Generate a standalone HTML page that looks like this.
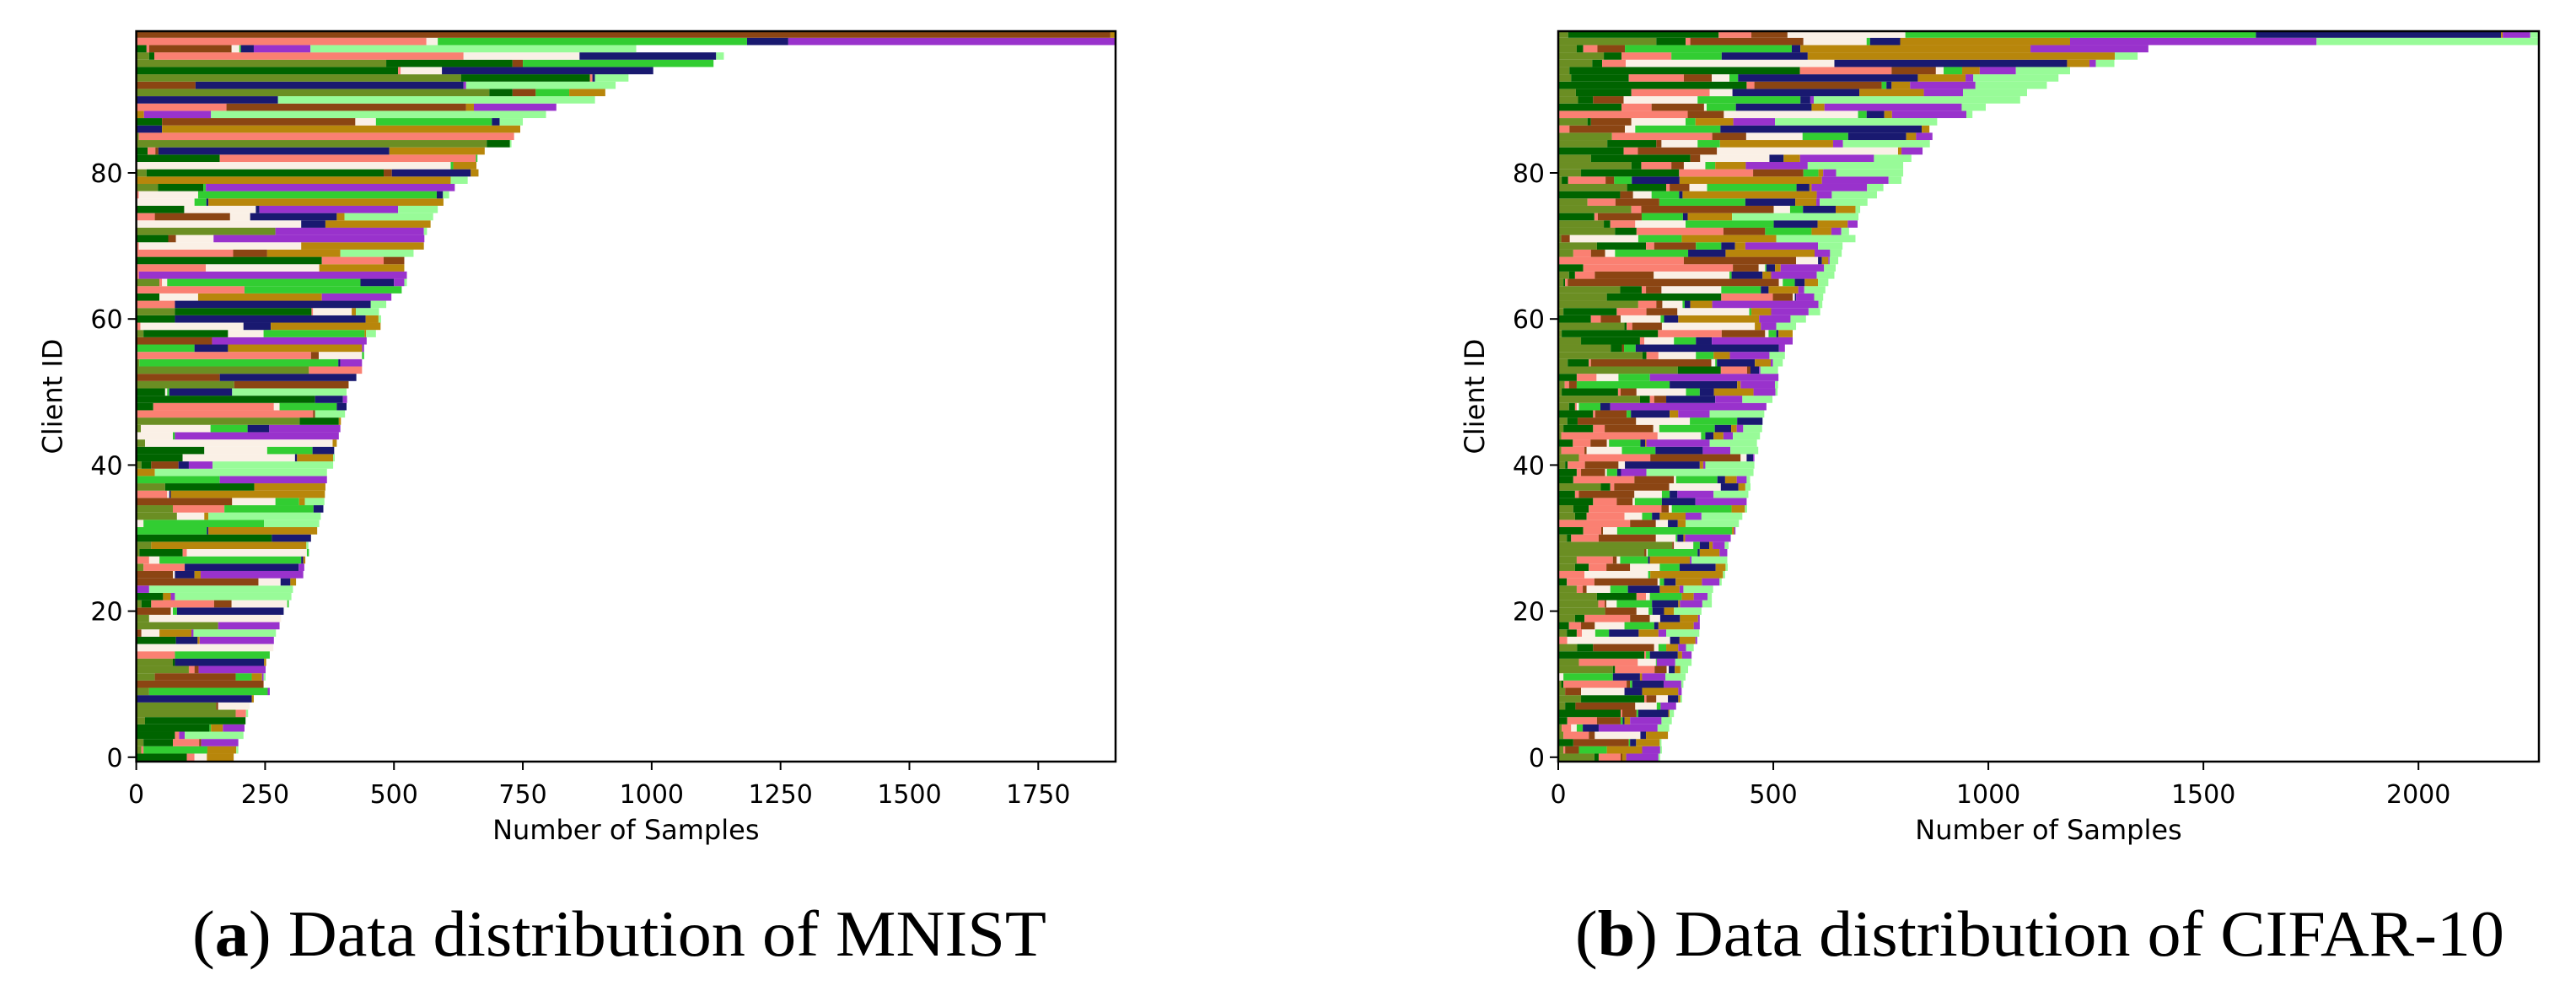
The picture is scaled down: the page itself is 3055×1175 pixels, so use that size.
<!DOCTYPE html>
<html>
<head>
<meta charset="utf-8">
<style>
  html,body{margin:0;padding:0;background:#fff;}
  svg{display:block;}
</style>
</head>
<body>
<svg id="fig" xmlns="http://www.w3.org/2000/svg" width="3055" height="1175" viewBox="0 0 3055 1175">
  <rect x="0" y="0" width="3055" height="1175" fill="#fff"/>
  <g id="panelA"></g>
  <g id="panelB"></g>
  <text x="228" y="1133" font-family="Liberation Serif, serif" font-size="77" textLength="1013" lengthAdjust="spacingAndGlyphs" fill="#000">(<tspan font-weight="bold">a</tspan>) Data distribution of MNIST</text>
  <text x="1868" y="1133" font-family="Liberation Serif, serif" font-size="77" textLength="1102" lengthAdjust="spacingAndGlyphs" fill="#000">(<tspan font-weight="bold">b</tspan>) Data distribution of CIFAR-10</text>
</svg>
<script>
// class order: olivedrab, darkgreen, salmon, saddlebrown, linen, limegreen, midnightblue, darkgoldenrod, darkorchid, palegreen
const classColors = ["#6b8e23","#006400","#fa8072","#8b4513","#faf0e6","#32cd32","#191970","#b8860b","#9932cc","#98fb98"];
const mnistXTicks = [0,250,500,750,1000,1250,1500,1750];
const cifarXTicks = [0,500,1000,1500,2000];
const yTicks = [0,20,40,60,80];
const mnistXMax = 1900;
const cifarXMax = 2280;
const mnistCounts = [
[0,98,15,0,24,0,0,52,0,0],[10,0,4,0,0,124,0,56,0,4],[14,57,51,4,0,0,0,0,72,0],[0,75,8,0,0,0,0,0,11,114],[0,142,0,0,0,3,0,23,42,0],
[17,195,0,0,0,0,0,0,0,0],[193,0,20,0,0,0,0,0,0,4],[155,0,0,4,61,0,0,0,0,0],[0,0,0,0,0,0,224,4,0,0],[25,0,0,0,0,230,0,0,4,0],
[0,0,0,247,0,0,0,0,0,0],[36,0,0,157,0,31,0,20,3,4],[102,0,11,8,0,0,0,0,130,0],[71,4,0,0,0,0,173,4,0,0],[0,0,75,0,0,184,0,0,0,0],
[0,0,0,0,266,0,0,0,0,0],[0,77,0,0,0,0,42,4,144,0],[0,0,0,10,35,0,0,62,4,160],[159,0,0,0,0,0,0,0,119,0],[25,0,0,0,256,0,0,0,0,0],
[0,0,0,67,4,8,207,0,0,0],[10,19,122,34,108,3,0,0,0,0],[0,52,0,0,0,0,0,15,8,226],[0,0,0,0,0,0,0,0,25,279],[0,0,0,237,43,0,19,11,0,0],
[0,0,0,71,4,0,38,12,199,0],[14,0,80,0,0,0,221,0,11,0],[0,0,25,0,20,275,4,4,0,0],[6,84,8,0,233,4,0,0,0,0],[29,0,0,0,0,0,0,301,0,4],
[0,263,0,0,0,0,76,0,0,0],[0,0,0,0,0,137,3,211,0,0],[0,0,0,0,14,234,0,0,0,107],[79,0,0,0,53,0,0,8,0,218],[71,0,100,0,0,173,19,0,0,0],
[0,0,0,186,84,46,0,11,0,38],[0,0,60,0,4,0,3,299,0,0],[56,173,0,0,0,0,0,138,0,0],[0,0,0,0,0,162,0,0,208,0],[0,0,0,0,0,0,0,36,0,334],
[10,19,0,53,0,0,20,0,46,234],[0,90,0,0,218,0,4,70,0,3],[0,132,0,0,122,88,42,0,0,0],[17,0,0,0,364,0,0,8,0,0],[0,0,0,0,71,4,0,0,318,0],
[9,0,0,0,135,72,42,0,138,0],[317,76,0,0,0,0,0,4,0,0],[0,0,343,4,0,0,0,0,0,58],[0,33,234,0,11,111,19,0,0,0],[0,347,0,0,0,0,54,0,8,0],
[0,56,0,0,4,4,122,0,0,222],[190,0,0,222,0,0,0,0,0,0],[0,0,0,162,0,0,265,0,0,0],[335,0,103,0,0,0,0,0,0,0],[6,0,0,0,0,386,4,0,42,0],
[0,0,339,15,84,4,0,0,0,0],[0,0,0,0,0,113,65,260,4,0],[0,0,0,147,0,0,0,0,300,0],[14,164,0,0,69,196,0,3,0,19],[0,0,8,0,200,0,53,213,0,0],
[0,75,0,0,0,0,370,25,0,5],[75,265,3,0,75,0,0,8,0,45],[0,0,75,0,0,0,380,0,0,30],[0,45,0,0,75,0,0,240,135,0],[0,0,210,0,0,305,0,0,0,0],
[45,0,5,0,10,375,65,0,20,5],[0,0,5,0,0,0,0,0,520,0],[0,0,135,0,220,0,0,165,0,0],[0,360,120,40,0,0,0,0,0,0],[0,0,188,66,0,0,0,142,0,142],
[0,0,5,0,315,0,0,238,0,0],[0,62,0,15,73,0,0,0,409,0],[270,0,0,0,0,0,0,0,288,6],[0,0,0,0,320,0,47,204,0,0],[0,0,36,146,39,0,168,15,0,172],
[0,93,0,0,139,0,7,0,269,77],[0,0,0,0,113,23,4,456,0,0],[0,0,5,0,115,463,12,0,0,12],[42,88,0,0,0,5,0,0,483,0],[0,0,0,0,0,0,0,610,0,33],
[20,460,0,16,0,0,153,15,0,0],[0,0,0,0,610,5,0,45,0,0],[0,162,497,0,0,3,0,0,0,0],[0,22,15,6,0,0,448,185,0,0],[680,45,0,0,0,0,0,0,0,3],
[5,0,728,0,0,0,0,0,0,0],[0,0,0,0,0,0,50,695,0,0],[0,50,0,375,40,225,15,0,0,45],[0,0,0,0,0,0,0,15,130,650],[0,0,175,465,0,0,0,15,160,0],
[0,0,0,0,0,0,275,0,0,615],[685,45,0,45,0,65,0,70,0,0],[0,0,0,115,0,0,520,0,5,290],[630,250,5,0,0,0,5,0,0,65],[0,508,5,0,80,0,410,0,0,0],
[485,245,0,20,0,370,0,0,0,0],[25,10,600,0,225,0,265,0,0,15],[0,20,5,160,15,3,25,0,110,632],[0,0,563,0,22,600,80,0,635,0],[0,0,0,0,0,0,0,0,0,0]
];
mnistCounts[99] = [0,0,0,1890,0,0,0,10,0,0];
const cifarCounts = [
[84,10,51,4,0,0,0,9,75,4],[12,0,4,32,0,65,0,82,42,4],[0,35,0,129,0,3,14,55,0,4],[12,0,59,14,106,0,13,51,0,0],[8,0,22,0,13,14,37,0,137,27],
[0,21,69,55,0,5,4,13,73,24],[0,145,4,33,0,4,70,3,0,10],[16,24,0,139,50,9,0,0,36,0],[53,147,5,23,27,0,24,5,0,4],[16,0,0,37,101,0,41,84,8,0],
[7,5,147,8,0,5,73,0,41,5],[0,0,0,0,12,115,63,5,54,47],[127,5,92,28,5,0,14,13,0,18],[48,0,137,0,42,2,0,0,43,38],[0,200,4,0,0,9,65,10,22,0],
[44,37,0,142,10,18,0,28,18,18],[0,0,21,0,239,0,22,37,4,0],[20,23,12,0,31,32,69,46,18,77],[0,25,28,32,69,69,10,82,14,0],[39,22,106,46,24,0,46,42,4,0],
[109,0,0,73,28,9,27,23,0,64],[93,0,15,4,24,82,61,4,52,22],[90,92,22,0,9,74,0,28,32,10],[43,0,14,9,55,41,74,46,9,69],[0,20,64,147,5,10,27,61,41,5],
[0,0,61,0,148,5,0,169,0,5],[39,32,41,55,69,46,84,23,0,5],[43,0,84,9,8,65,4,93,4,83],[200,0,0,5,3,116,5,46,18,0],[265,0,0,4,45,15,22,8,28,9],
[20,10,64,133,46,4,14,4,106,0],[0,58,42,4,33,267,0,5,3,0],[0,0,167,60,28,0,23,18,0,124],[39,27,88,0,41,23,18,60,37,95],[35,36,169,17,7,139,0,31,0,5],
[0,81,55,37,5,63,78,0,119,0],[0,39,9,129,64,18,18,0,84,81],[99,22,9,128,120,0,41,16,0,12],[0,35,142,92,5,96,18,27,23,8],[0,43,10,56,4,24,9,0,59,249],
[16,6,40,78,15,0,174,8,5,114],[48,0,166,210,14,0,15,0,3,0],[7,0,54,5,82,78,110,0,64,65],[0,34,41,38,5,73,11,3,147,110],[7,0,224,0,101,10,19,23,22,63],
[12,69,27,113,14,129,38,13,15,44],[21,24,0,136,125,110,59,0,0,0],[0,81,5,73,0,10,90,20,73,127],[25,14,4,0,5,50,23,0,363,0],[190,23,10,28,0,0,114,0,63,70],
[8,131,6,37,115,32,33,92,51,5],[15,0,10,18,0,216,157,8,80,7],[0,43,46,0,51,73,0,0,299,0],[278,100,61,8,0,0,20,0,3,41],[22,49,5,280,9,4,88,37,5,23],
[196,9,28,0,87,41,0,38,92,36],[122,26,0,5,0,27,333,0,14,0],[53,137,10,0,69,51,37,0,188,0],[8,224,148,101,8,18,5,33,0,0],[154,5,13,69,216,0,0,14,36,46],
[0,76,23,46,93,8,33,188,73,36],[12,124,69,72,167,5,0,46,87,27],[186,0,42,14,47,5,13,51,247,9],[113,266,120,46,5,0,3,0,42,21],[144,50,10,36,139,92,18,69,14,49],
[12,4,6,491,9,28,23,31,0,24],[25,14,46,137,176,5,72,20,106,41],[0,58,348,60,15,3,20,13,101,27],[0,0,292,261,51,0,9,15,3,20],[35,0,41,33,23,170,87,207,36,27],
[90,114,19,97,0,59,32,24,169,57],[7,0,0,20,159,101,0,220,0,184],[132,50,202,97,0,108,0,46,23,18],[106,15,58,0,117,205,102,70,23,0],[0,84,8,102,0,96,11,103,0,294],
[170,0,23,308,38,30,76,46,0,11],[68,0,65,102,0,200,116,49,8,111],[0,144,0,30,43,64,8,312,35,105],[160,91,8,46,41,208,30,5,129,38],[8,15,87,20,0,41,111,331,155,30],
[53,228,172,117,0,35,0,11,30,156],[170,23,70,29,50,23,0,71,144,222],[76,231,0,23,161,0,33,38,172,87],[0,152,33,184,421,0,0,8,49,0],[114,114,0,12,84,52,0,263,23,202],
[125,0,233,79,131,106,135,23,38,0],[0,0,26,129,24,198,468,18,0,0],[68,8,0,94,126,23,0,88,97,377],[0,0,301,84,312,20,41,18,173,14],[0,147,70,122,6,68,176,30,319,56],
[46,35,0,71,172,239,23,0,8,480],[41,129,182,0,53,0,295,150,91,149],[0,438,18,296,0,11,12,43,152,166],[30,134,128,65,41,20,418,111,18,198],[26,536,213,103,18,43,0,41,84,126],
[79,23,55,0,485,0,541,52,15,43],[106,41,116,0,0,117,200,714,0,53],[43,15,33,64,0,388,20,535,274,0],[228,68,11,263,147,8,70,395,573,517],[23,350,76,84,274,815,570,4,64,20]
];

const NS = "http://www.w3.org/2000/svg";
const PLOT_TOP = 37, PLOT_BOTTOM = 903, Y_MIN = -0.6, Y_MAX = 99.4;
const FONT = "DejaVu Sans, Liberation Sans, sans-serif";

function mk(tag, attrs) {
  const e = document.createElementNS(NS, tag);
  for (const k in attrs) e.setAttribute(k, attrs[k]);
  return e;
}

function drawPanel(g, counts, xMax, xTicks, left, right, prefix) {
  const xScale = v => left + (v / xMax) * (right - left);
  const yScale = v => PLOT_BOTTOM - (v - Y_MIN) / (Y_MAX - Y_MIN) * (PLOT_BOTTOM - PLOT_TOP);
  const clipId = prefix + "-clip";
  const defs = mk("defs", {});
  const cp = mk("clipPath", {id: clipId});
  cp.appendChild(mk("rect", {x: left, y: PLOT_TOP, width: right - left, height: PLOT_BOTTOM - PLOT_TOP}));
  defs.appendChild(cp);
  g.appendChild(defs);
  const bars = mk("g", {"clip-path": "url(#" + clipId + ")"});
  
  
  g.appendChild(bars);
  counts.forEach((row, i) => {
    let acc = 0;
    const yTop = yScale(i + 0.5), yBot = yScale(i - 0.5);
    row.forEach((v, c) => {
      if (v <= 0) return;
      const x0 = xScale(acc), x1 = xScale(acc + v);
      acc += v;
      const r = mk("rect", {x: x0.toFixed(2), y: yTop.toFixed(2), width: (x1 - x0).toFixed(2), height: (yBot - yTop).toFixed(2), fill: classColors[c]});
      
      
      bars.appendChild(r);
    });
  });
  // axes spines
  const frame = mk("rect", {x: left, y: PLOT_TOP, width: right - left, height: PLOT_BOTTOM - PLOT_TOP, fill: "none", stroke: "#000", "stroke-width": 2.5});
  
  
  g.appendChild(frame);
  xTicks.forEach(t => {
    const x = xScale(t);
    const tk = mk("line", {x1: x, x2: x, y1: PLOT_BOTTOM, y2: PLOT_BOTTOM + 10, stroke: "#000", "stroke-width": 2});
    
    
    g.appendChild(tk);
    const lb = mk("text", {x: x, y: 952, "text-anchor": "middle", "font-family": FONT, "font-size": 30, fill: "#000"});
    lb.textContent = String(t);
    
    
    g.appendChild(lb);
  });
  yTicks.forEach(t => {
    const y = yScale(t);
    const tk = mk("line", {x1: left - 10, x2: left, y1: y, y2: y, stroke: "#000", "stroke-width": 2});
    
    
    g.appendChild(tk);
    const lb = mk("text", {x: left - 16, y: y + 11, "text-anchor": "end", "font-family": FONT, "font-size": 30, fill: "#000"});
    lb.textContent = String(t);
    
    
    g.appendChild(lb);
  });
  const xl = mk("text", {x: (left + right) / 2, y: 995, "text-anchor": "middle", "font-family": FONT, "font-size": 32, fill: "#000"});
  xl.textContent = "Number of Samples";
  
  
  g.appendChild(xl);
  const yx = left - 88, yy = (PLOT_TOP + PLOT_BOTTOM) / 2;
  const yl = mk("text", {x: yx, y: yy, "text-anchor": "middle", "font-family": FONT, "font-size": 32, fill: "#000", transform: "rotate(-90 " + yx + " " + yy + ")"});
  yl.textContent = "Client ID";
  
  
  g.appendChild(yl);
}

drawPanel(document.getElementById("panelA"), mnistCounts, mnistXMax, mnistXTicks, 161.6, 1323, "mnist");
drawPanel(document.getElementById("panelB"), cifarCounts, cifarXMax, cifarXTicks, 1848, 3011, "cifar");
</script>
</body>
</html>
